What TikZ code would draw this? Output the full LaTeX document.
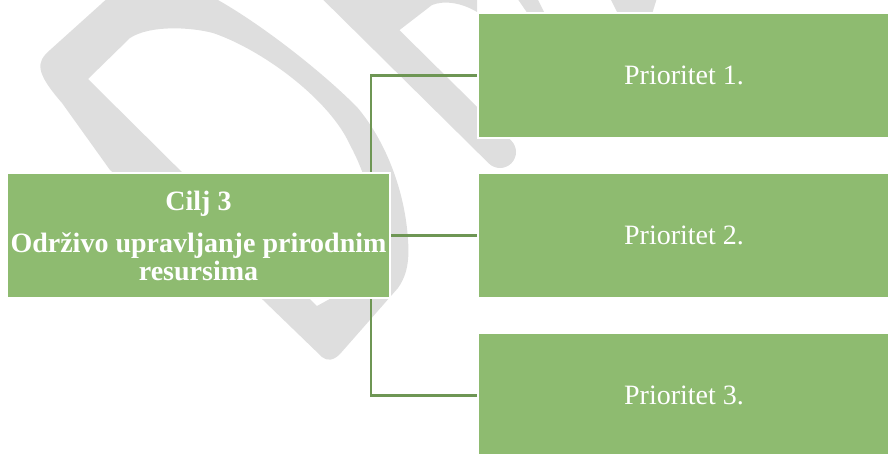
\documentclass[tikz,border=0pt]{standalone}
\usepackage{fontspec}
\setmainfont{Liberation Serif}
\definecolor{boxgreen}{RGB}{142,187,112}
\definecolor{linkgreen}{RGB}{110,150,84}
\definecolor{wmgray}{RGB}{222,222,222}
\pgfdeclarelayer{wm}
\pgfdeclarelayer{links}
\pgfsetlayers{wm,links,main}

\begin{document}
\begin{tikzpicture}[x=1pt,y=-1pt,
  box/.style={fill=boxgreen,draw=white,line width=1.5pt,text=white,inner sep=0pt},
  prio/.style={box,minimum width=412pt,minimum height=125pt,font=\fontsize{28}{28}\selectfont},
  link/.style={draw=linkgreen,line width=2.5pt}]
\useasboundingbox (0,0) rectangle (888,453);
\clip (0,0) rectangle (888,453);

%boxes
\node[box,minimum width=383pt,minimum height=125pt,align=center,
  font=\fontsize{28}{28}\selectfont\bfseries] (cilj) at (198.5,235.5)
  {Cilj 3\\[14pt]Održivo upravljanje prirodnim\\resursima};
\node[prio] (p1) at (684,75.5) {Prioritet 1.};
\node[prio] (p2) at (684,235.5) {Prioritet 2.};
\node[prio] (p3) at (684,395.5) {Prioritet 3.};

%connectors
\begin{pgfonlayer}{links}
\foreach \p in {p1,p2,p3}
  \draw[link] ([xshift=-20pt]cilj.east) |- (\p.west);
\end{pgfonlayer}

%watermark
\begin{pgfonlayer}{wm}
\fill[wmgray,even odd rule]
  (322,357) -- (263,300) -- (110,170) -- (62,103) .. controls (35,72) and (36,62) .. (50,50)
  -- (100,5) .. controls (130,-25) and (185,-20) .. (218,0)
  .. controls (262,25) and (320,70) .. (357,107)
  .. controls (385,140) and (405,190) .. (408,240)
  .. controls (410,265) and (405,278) .. (398,288)
  -- (340,354) .. controls (333,361) and (327,361) .. (322,357) -- cycle
  (88,79) -- (130,38) .. controls (150,25) and (190,27) .. (213,33)
  .. controls (263,50) and (330,100) .. (350,145)
  .. controls (380,200) and (380,260) .. (355,285) -- (317,306) -- cycle;
\draw[wmgray,line width=32pt,line cap=round] (250,-95) -- (500,152);
\fill[wmgray] (330,-20) -- (477,-20) -- (477,12) .. controls (462,3) and (445,0) .. (432,5)
  -- (397,32) -- cycle;
\fill[wmgray] (517,-2) -- (537,-2) -- (545,14) -- (528,14) -- cycle;
\fill[wmgray] (610,-2) -- (657,-2) -- (652,14) -- (618,14) -- cycle;
\end{pgfonlayer}
\end{tikzpicture}
\end{document}
